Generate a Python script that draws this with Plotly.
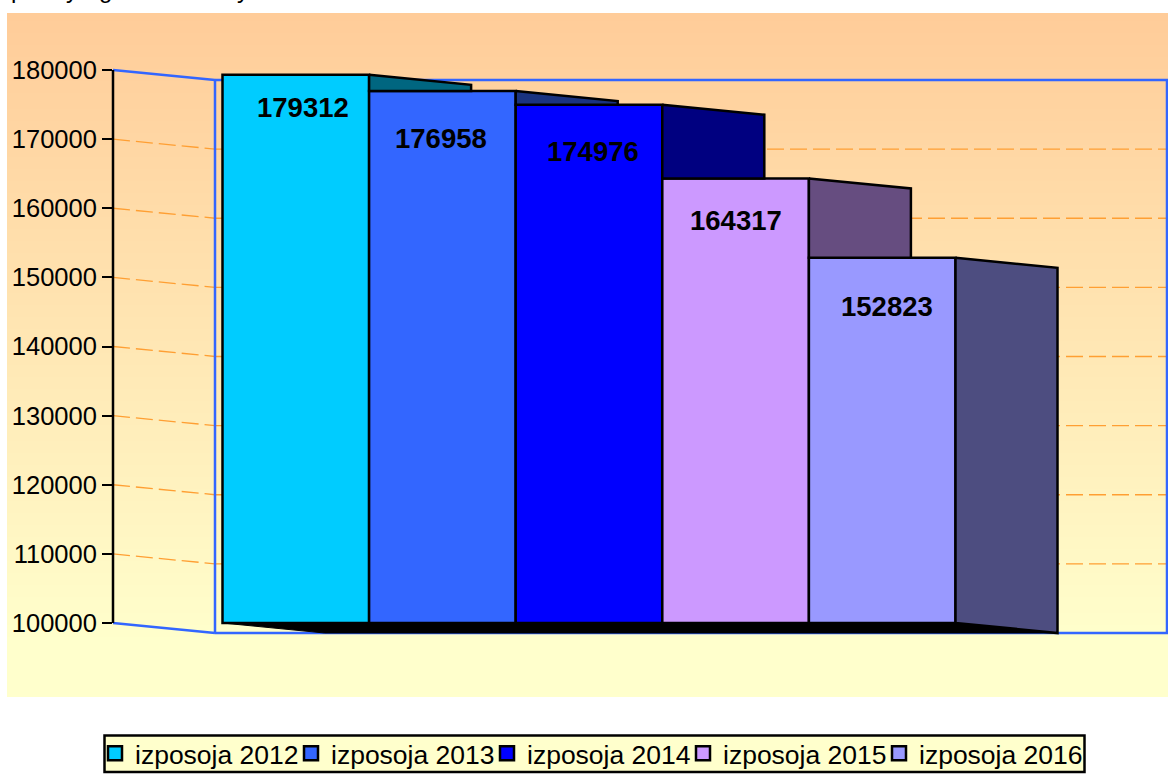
import plotly.graph_objects as go

# ---- data ----
series_names = ["izposoja 2012", "izposoja 2013", "izposoja 2014", "izposoja 2015", "izposoja 2016"]
series_values = [179312, 176958, 174976, 164317, 152823]
tick_values = [100000, 110000, 120000, 130000, 140000, 150000, 160000, 170000, 180000]
tick_labels = [str(t) for t in tick_values]
clipped_title_letters = ["p", "y", "g", "y"]

# ---- styles ----
front_colors = ["#00CCFF", "#3366FF", "#0000FF", "#CC99FF", "#9999FF"]
side_colors = ["#006680", "#1A3380", "#000080", "#664D80", "#4D4D80"]
FONT = "Liberation Sans, Arial, sans-serif"
BLUE = "#3366FF"
ORANGE = "#FF9F33"

# ---- geometry ----
W, H = 1168, 774
PL, PR, PT, PB = 113, 1168, 60, 640      # plot area in px
PX_PER_BAR = 146.6
PX_PER_K = 553 / 80.0
BASE = tick_values[0]
DX = 102 / PX_PER_BAR                    # oblique depth in x units
DY = 10 / PX_PER_K * 1000                # oblique depth in y units
xmin = -0.5 - 109.5 / PX_PER_BAR
xmax = xmin + (PR - PL) / PX_PER_BAR
ymax = tick_values[-1] + (70 - PT) / PX_PER_K * 1000
ymin = BASE - (PB - 623) / PX_PER_K * 1000


def paper_x(px):
    return (px - PL) / (PR - PL)


def paper_y(py):
    return (PB - py) / (PB - PT)


fig = go.Figure()

# front faces
fig.add_trace(go.Bar(
    x=list(range(len(series_values))),
    y=[v - BASE for v in series_values],
    base=BASE,
    width=1,
    marker=dict(color=front_colors, line=dict(color="black", width=2.5)),
    showlegend=False,
    hoverinfo="skip",
))

# floor of the bars (seen from below)
n = len(series_values)
fx = [-0.5, n - 0.5, n - 0.5 + DX, -0.5 + DX, -0.5]
fy = [BASE, BASE, BASE - DY, BASE - DY, BASE]
fig.add_trace(go.Scatter(x=fx, y=fy, mode="lines", fill="toself", fillcolor="black",
                         line=dict(color="black", width=1), showlegend=False, hoverinfo="skip"))

# side faces, cut off where the next bar's front hides them
for i, v in enumerate(series_values):
    left = i + 0.5
    if i < n - 1:
        low = series_values[i + 1]
        sx = [left, left + DX, left + DX, left, left]
        sy = [v, v - DY, low, low, v]
    else:
        sx = [left, left + DX, left + DX, left, left]
        sy = [v, v - DY, BASE - DY, BASE, v]
    fig.add_trace(go.Scatter(x=sx, y=sy, mode="lines", fill="toself", fillcolor=side_colors[i],
                             line=dict(color="black", width=2.5), showlegend=False, hoverinfo="skip"))

# legend entries
for name, col in zip(series_names, front_colors):
    fig.add_trace(go.Scatter(x=[None], y=[None], mode="markers", name=name,
                             marker=dict(symbol="square", size=14, color=col,
                                         line=dict(color="black", width=2.5))))

# ---- background gradient + walls + grid (all below the marks) ----
shapes = []
top, bottom, end = 13, 697, 640
c0, c1 = (255, 204, 153), (255, 255, 204)
step = 4
for py in range(top, bottom, step):
    t = min(1.0, (py - top) / (end - top))
    col = "rgb(%d,%d,%d)" % tuple(round(a + (b - a) * t) for a, b in zip(c0, c1))
    shapes.append(dict(type="rect", xref="paper", yref="paper", layer="below",
                       x0=paper_x(7), x1=paper_x(W),
                       y0=paper_y(min(py + step, bottom)), y1=paper_y(py),
                       fillcolor=col, line=dict(width=0)))

# legend frame
shapes.append(dict(type="rect", xref="paper", yref="paper", layer="below",
                   x0=paper_x(104.5), x1=paper_x(1084.5), y0=paper_y(772), y1=paper_y(735.5),
                   fillcolor="#FFFFCC", line=dict(color="black", width=2.5)))

for t in tick_values:
    is_edge = t in (tick_values[0], tick_values[-1])
    line = dict(color=BLUE, width=2.5) if is_edge else dict(color=ORANGE, width=1.3, dash="17px,6px")
    shapes.append(dict(type="line", xref="x", yref="y", layer="below",
                       x0=xmin, x1=xmin + DX, y0=t, y1=t - DY, line=line))
    shapes.append(dict(type="line", xref="x", yref="y", layer="below",
                       x0=xmin + DX, x1=xmax, y0=t - DY, y1=t - DY, line=line))
for xx in (xmin + DX, xmax - 1 / PX_PER_BAR):
    shapes.append(dict(type="line", xref="x", yref="y", layer="below",
                       x0=xx, x1=xx, y0=BASE - DY, y1=tick_values[-1] - DY,
                       line=dict(color=BLUE, width=2.5)))

# value-axis line (paper x so it is not clipped at the plot edge)
shapes.append(dict(type="line", xref="paper", yref="y", layer="above",
                   x0=0, x1=0, y0=BASE, y1=tick_values[-1],
                   line=dict(color="black", width=2.5)))

# ---- value labels ----
label_dx = [0.05, -0.01, 0.03, 0.0, 0.03]
label_dy = [-33, -47, -47, -42, -49]
annotations = []
for i, v in enumerate(series_values):
    annotations.append(dict(x=i + label_dx[i], y=v, yshift=label_dy[i], xref="x", yref="y",
                            text="<b>%d</b>" % v, showarrow=False,
                            font=dict(family=FONT, size=27.5, color="black")))

# the title above the chart is cut off by the page edge; only descenders remain
title_px = [17, 72, 105, 243]
for ch, px in zip(clipped_title_letters, title_px):
    annotations.append(dict(x=paper_x(px), y=paper_y(5), xref="paper", yref="paper",
                            xanchor="center", yanchor="bottom", text=ch, showarrow=False,
                            font=dict(family=FONT, size=24, color="black")))

fig.update_layout(
    width=W, height=H,
    margin=dict(l=PL, r=W - PR, t=PT, b=H - PB, pad=0, autoexpand=False),
    paper_bgcolor="white",
    plot_bgcolor="rgba(0,0,0,0)",
    xaxis=dict(range=[xmin, xmax], visible=False),
    yaxis=dict(range=[ymin, ymax], tickmode="array", tickvals=tick_values, ticktext=tick_labels,
               ticks="outside", ticklen=10, tickwidth=2, tickcolor="black",
               showgrid=False, zeroline=False, showline=False,
               tickfont=dict(family=FONT, size=25.5, color="black")),
    legend=dict(orientation="h", x=paper_x(95), y=paper_y(729.5), xanchor="left", yanchor="top",
                bgcolor="rgba(0,0,0,0)", borderwidth=0,
                entrywidth=151, entrywidthmode="pixels", itemclick=False, itemdoubleclick=False,
                font=dict(family=FONT, size=26.5, color="black")),
    shapes=shapes,
    annotations=annotations,
    hovermode=False,
)

page_js = """
document.body.style.margin = '0';
var st = document.createElement('style');
st.textContent = '.legend .scrollbox{clip-path:none !important;}';
document.head.appendChild(st);
"""
fig.write_html("out.html", config=dict(displayModeBar=False), post_script=page_js)
